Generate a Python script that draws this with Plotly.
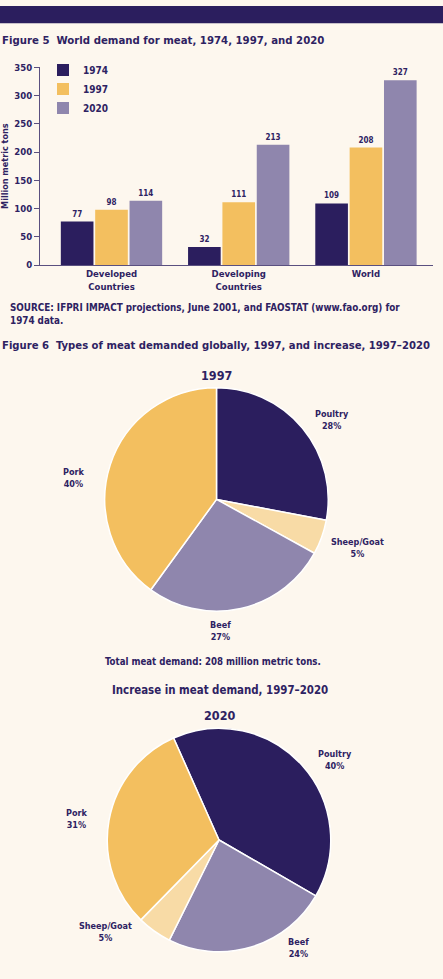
import plotly.graph_objects as go

W, H = 443, 979

# ---------------- data ----------------
regions = ["Developed<br>Countries", "Developing<br>Countries", "World"]
years = ["1974", "1997", "2020"]
demand_1974 = [77, 32, 109]
demand_1997 = [98, 111, 208]
demand_2020 = [114, 213, 327]
y_ticks = [0, 50, 100, 150, 200, 250, 300, 350]

meat_1997 = ["Poultry", "Sheep/Goat", "Beef", "Pork"]
share_1997 = [28, 5, 27, 40]
meat_2020 = ["Poultry", "Beef", "Sheep/Goat", "Pork"]
share_2020 = [40, 24, 5, 31]

# ---------------- styles ----------------
NAVY = "#2b1e5e"
GOLD = "#f3bf5f"
LAV = "#8f86ad"
PALE = "#f8dba6"
BG = "#fdf7ee"
TXT = "#2e2262"
FONT = "DejaVu Sans Condensed, DejaVu Sans, sans-serif"

bar_colors = {"1974": NAVY, "1997": GOLD, "2020": LAV}
meat_colors = {"Poultry": NAVY, "Sheep/Goat": PALE, "Beef": LAV, "Pork": GOLD}


def px(x):
    return x / W


def py(y):
    return 1 - y / H


fig = go.Figure()

for yr, vals in zip(years, [demand_1974, demand_1997, demand_2020]):
    fig.add_trace(go.Bar(
        x=regions, y=vals, name=yr,
        marker=dict(color=bar_colors[yr], line=dict(width=0)),
        text=vals, texttemplate="%{y}", textposition="outside",
        textfont=dict(family=FONT, size=8, color=TXT, weight="bold"),
        cliponaxis=False, xaxis="x", yaxis="y",
    ))


def add_pie(labels, values, dom_c, r, rot):
    cx, cy = dom_c
    fig.add_trace(go.Pie(
        labels=labels, values=values, sort=False, direction="clockwise",
        rotation=rot, textinfo="none", hoverinfo="label+percent",
        marker=dict(colors=[meat_colors[l] for l in labels],
                    line=dict(color="white", width=1.5)),
        domain=dict(x=[px(cx - r), px(cx + r)], y=[py(cy + r), py(cy - r)]),
        showlegend=False,
    ))


add_pie(meat_1997, share_1997, (216.5, 499), 113, 0)
add_pie(meat_2020, share_2020, (219, 843.5), 113, -24)

ann = []


def text(x, y, s, size, xanchor="center", align="center"):
    ann.append(dict(x=px(x), y=py(y), xref="paper", yref="paper", text=s,
                    showarrow=False, xanchor=xanchor, yanchor="middle", align=align,
                    font=dict(family=FONT, size=size, color=TXT, weight="bold")))


text(0, 35, "Figure 5  World demand for meat, 1974, 1997, and 2020", 11.3, "left", "left")
text(8, 311.5, "SOURCE: IFPRI IMPACT projections, June 2001, and FAOSTAT (www.fao.org) for<br>1974 data.",
     9.8, "left", "left")
text(0, 343, "Figure 6  Types of meat demanded globally, 1997, and increase, 1997–2020", 11.2, "left", "left")
text(216, 374, "1997", 12.5)
text(213, 663, "Total meat demand: 208 million metric tons.", 9.6)
text(220, 692, "Increase in meat demand, 1997–2020", 11.4)
text(219, 718, "2020", 12.5)

pos_1997 = {"Poultry": (332, 419), "Sheep/Goat": (357, 548), "Beef": (220, 632), "Pork": (73, 477)}
pos_2020 = {"Poultry": (335, 763), "Beef": (298, 953), "Sheep/Goat": (105, 937), "Pork": (76, 822)}
for labs, vals, pos in [(meat_1997, share_1997, pos_1997), (meat_2020, share_2020, pos_2020)]:
    for l, v in zip(labs, vals):
        x, y = pos[l]
        text(x, y, f"{l}<br>{v}%", 9)

fig.update_layout(
    width=W, height=H, margin=dict(l=0, r=0, t=0, b=0),
    paper_bgcolor=BG, plot_bgcolor=BG,
    font=dict(family=FONT, color=TXT),
    barmode="group", bargap=0.19, bargroupgap=0.05,
    xaxis=dict(domain=[px(40), px(433)], range=[-0.562, 2.527],
               showline=True, linecolor="#5a5080", linewidth=1, ticks="",
               tickfont=dict(family=FONT, size=9.5, color=TXT, weight="bold"),
               showgrid=False, zeroline=False, anchor="y", fixedrange=True),
    yaxis=dict(domain=[py(262), py(62)], range=[0, 350], tickvals=y_ticks,
               showline=True, linecolor="#5a5080", linewidth=1,
               ticks="outside", ticklen=5, tickcolor="#5a5080",
               tickfont=dict(family=FONT, size=9.5, color=TXT, weight="bold"),
               showgrid=False, zeroline=False, anchor="x",
               title=dict(text="Million metric tons", standoff=6,
                          font=dict(family=FONT, size=9, color=TXT, weight="bold"))),
    legend=dict(x=px(43), y=py(50), xanchor="left", yanchor="top",
                bgcolor="rgba(0,0,0,0)", tracegroupgap=0, itemwidth=30,
                font=dict(family=FONT, size=10, color=TXT, weight="bold")),
    shapes=[dict(type="rect", xref="paper", yref="paper", x0=0, x1=1,
                 y0=py(17.5), y1=1, fillcolor=NAVY, line=dict(width=0), layer="above")],
    annotations=ann,
)

fig.write_html("out.html")
